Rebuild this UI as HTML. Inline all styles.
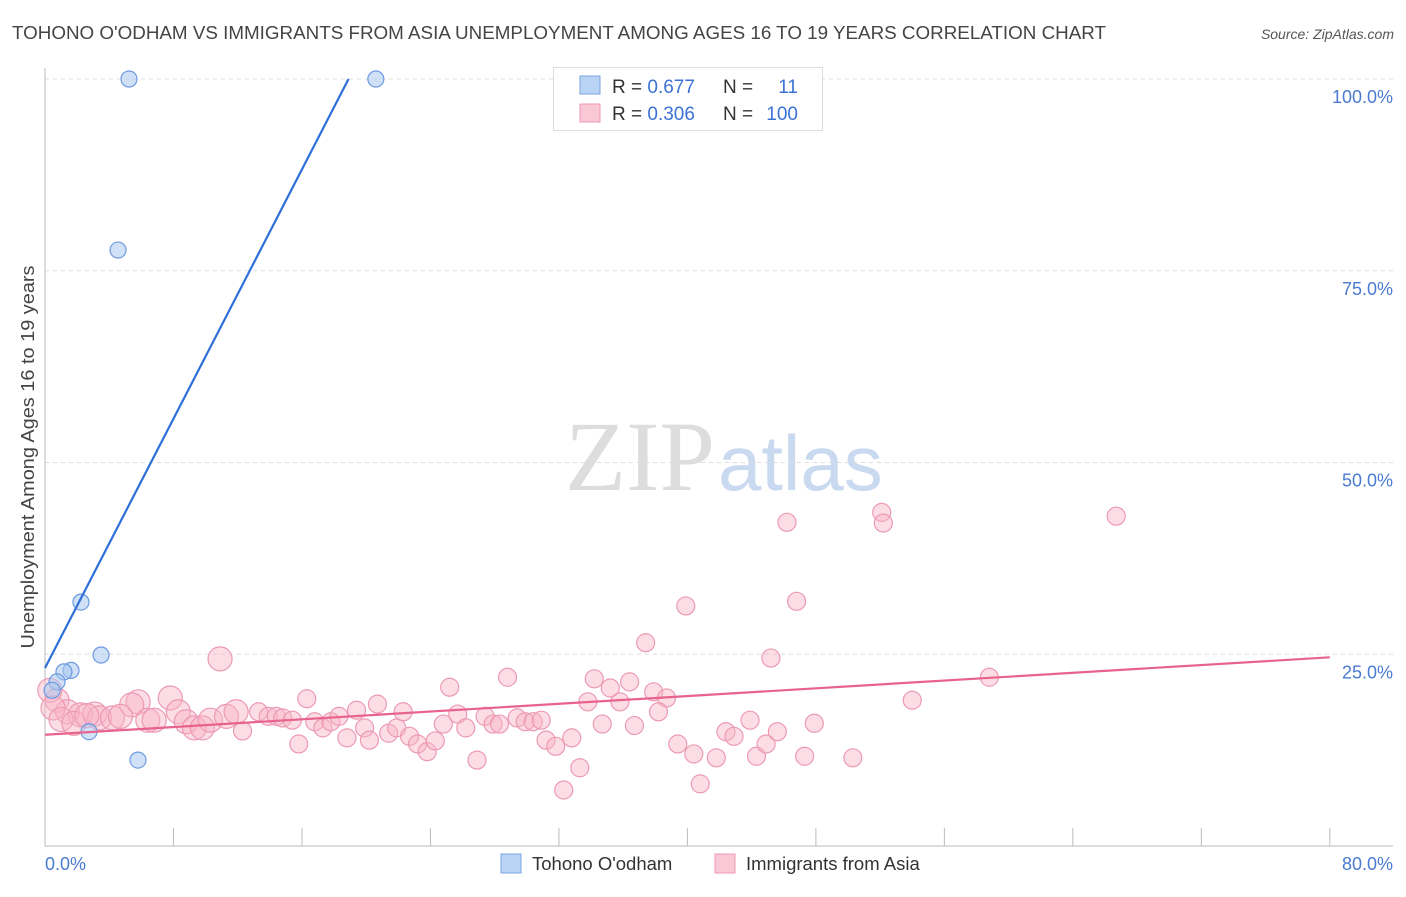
<!DOCTYPE html>
<html><head><meta charset="utf-8"><style>
body{margin:0;background:#fff;font-family:"Liberation Sans",sans-serif;}
</style></head><body>
<svg id="chart" width="1406" height="892" xmlns="http://www.w3.org/2000/svg">
<text x="12" y="39" font-size="18" fill="#444" textLength="1094" lengthAdjust="spacingAndGlyphs">TOHONO O'ODHAM VS IMMIGRANTS FROM ASIA UNEMPLOYMENT AMONG AGES 16 TO 19 YEARS CORRELATION CHART</text>
<text x="1394" y="39" font-size="14" fill="#555" font-style="italic" text-anchor="end">Source: ZipAtlas.com</text>
<text x="715" y="490" font-size="100" fill="#ddd" font-family="Liberation Serif,serif" text-anchor="end">ZIP</text>
<text x="718" y="490" font-size="78" fill="#c9d9f0">atlas</text>
<text transform="translate(34,457) rotate(-90)" font-size="18" fill="#444" text-anchor="middle" textLength="383" lengthAdjust="spacingAndGlyphs">Unemployment Among Ages 16 to 19 years</text>
<g id="grid"></g><g id="pts"></g><g id="lines"></g>
<g>
<rect x="553.5" y="67.5" width="269" height="63" fill="#fff" stroke="#ddd"/>
<rect x="580" y="76" width="20" height="18" fill="#b9d3f5" stroke="#7aa6e0"/>
<rect x="580" y="104" width="20" height="18" fill="#fac7d6" stroke="#ee9ab3"/>
<text x="612" y="93" font-size="19" fill="#333">R = <tspan fill="#3b72d6">0.677</tspan></text>
<text x="723" y="93" font-size="19" fill="#333">N =</text><text x="798" y="93" font-size="19" fill="#3b72d6" text-anchor="end">11</text>
<text x="612" y="120" font-size="19" fill="#333">R = <tspan fill="#3b72d6">0.306</tspan></text>
<text x="723" y="120" font-size="19" fill="#333">N =</text><text x="798" y="120" font-size="19" fill="#3b72d6" text-anchor="end">100</text>
</g>
<g>
<rect x="501" y="854" width="20" height="19" fill="#b9d3f5" stroke="#7aa6e0"/>
<text x="532" y="870" font-size="18.5" fill="#333">Tohono O'odham</text>
<rect x="715" y="854" width="20" height="19" fill="#fac7d6" stroke="#ee9ab3"/>
<text x="746" y="870" font-size="18.5" fill="#333">Immigrants from Asia</text>
</g>
</svg>
<script>
const yTicks=[25,50,75,100];
const yTickLabels=["25.0%","50.0%","75.0%","100.0%"];
const xTicks=[0,8,16,24,32,40,48,56,64,72,80];
const blueX=[5.23,20.6,4.55,2.24,3.49,1.62,1.18,0.75,0.44,2.74,5.79];
const blueY=[100,100,77.7,31.8,24.9,22.9,22.7,21.4,20.3,14.9,11.2];
const pinkX=[46.2,52.1,52.2,66.7,39.9,46.8,37.4,45.2,58.8,54.0,10.9,25.2,28.8,34.2,36.4,35.2,37.9,38.7,35.8,33.8,38.2,16.3,20.7,7.8,5.8,5.4,0.75,0.3,1.4,2.2,3.1,3.4,4.2,4.7,6.4,6.8,8.3,8.8,9.3,9.8,10.3,11.3,11.9,12.3,13.3,13.9,14.4,14.8,15.4,15.8,16.8,17.3,17.8,18.3,18.8,19.4,19.9,20.2,21.4,21.9,22.3,22.7,23.2,23.8,24.3,24.8,25.7,26.2,26.9,27.4,27.9,28.3,29.4,29.9,30.4,30.9,31.2,31.8,32.3,32.8,33.3,34.7,36.7,39.4,40.4,40.8,41.8,42.4,42.9,43.9,44.3,44.9,45.6,47.3,47.9,50.3,0.5,1.0,1.8,2.6];
const pinkY=[42.2,43.5,42.1,43.0,31.3,31.9,26.5,24.5,22.0,19.0,24.4,20.7,22.0,21.8,21.4,20.6,20.1,19.3,18.8,18.8,17.5,19.2,18.5,19.3,18.8,18.4,19.0,20.3,17.5,17.1,17.2,16.7,16.7,16.9,16.4,16.4,17.5,16.2,15.4,15.4,16.4,16.9,17.5,15.0,17.5,16.9,16.9,16.7,16.4,13.3,16.2,15.4,16.2,16.9,14.1,17.7,15.4,13.8,14.7,15.4,17.5,14.3,13.3,12.3,13.7,15.9,17.2,15.4,11.2,16.9,15.9,15.9,16.7,16.2,16.2,16.4,13.8,13.0,7.3,14.1,10.2,15.9,15.7,13.3,12.0,8.1,11.5,14.9,14.3,16.4,11.7,13.3,14.9,11.7,16.0,11.5,18.0,16.5,16.0,17.0];
const blueLine=[[0,23.2],[18.9,100]];
const pinkLine=[[0,14.5],[80,24.6]];
const NS="http://www.w3.org/2000/svg";
const sx=v=>45+v*16.06, sy=v=>846-v*7.67;
function mk(t,a,p){const e=document.createElementNS(NS,t);for(const k in a)e.setAttribute(k,a[k]);p.appendChild(e);return e;}
const grid=document.getElementById('grid');
yTicks.forEach((t,i)=>{
 const l=mk('line',{x1:45,x2:1393,y1:sy(t),y2:sy(t),stroke:'#ddd','stroke-dasharray':'4,4'},grid);
 
 
 const tx=mk('text',{x:1393,y:sy(t)+24,'font-size':18,fill:'#4a7bd0','text-anchor':'end'},grid);
 tx.textContent=yTickLabels[i];
 
 
});
mk('line',{x1:45,x2:45,y1:68,y2:846,stroke:'#bbb'},grid);
mk('line',{x1:45,x2:1393,y1:846,y2:846,stroke:'#bbb'},grid);
xTicks.forEach(t=>{
 const l=mk('line',{x1:sx(t),x2:sx(t),y1:828,y2:846,stroke:'#bbb'},grid);
 
 
});
const xl0=mk('text',{x:45,y:870,'font-size':18,fill:'#4a7bd0'},grid);xl0.textContent='0.0%';


const xl1=mk('text',{x:1393,y:870,'font-size':18,fill:'#4a7bd0','text-anchor':'end'},grid);xl1.textContent='80.0%';


const pts=document.getElementById('pts');
pinkX.forEach((x,i)=>{
 const r=x<12?12:9;
 const c=mk('circle',{cx:sx(x),cy:sy(pinkY[i]),r:r,fill:'rgba(248,180,200,0.45)',stroke:'#ec9ab4','stroke-width':1.2},pts);
 
 
});
blueX.forEach((x,i)=>{
 const c=mk('circle',{cx:sx(x),cy:sy(blueY[i]),r:8,fill:'rgba(170,200,240,0.55)',stroke:'#6d9ae0','stroke-width':1.2},pts);
 
 
});
const lines=document.getElementById('lines');
const bl=mk('line',{x1:sx(blueLine[0][0]),y1:sy(blueLine[0][1]),x2:sx(blueLine[1][0]),y2:sy(blueLine[1][1]),stroke:'#2f6fd8','stroke-width':2.2},lines);


const pl=mk('line',{x1:sx(pinkLine[0][0]),y1:sy(pinkLine[0][1]),x2:sx(pinkLine[1][0]),y2:sy(pinkLine[1][1]),stroke:'#e8628e','stroke-width':2.2},lines);


</script>
</body></html>
